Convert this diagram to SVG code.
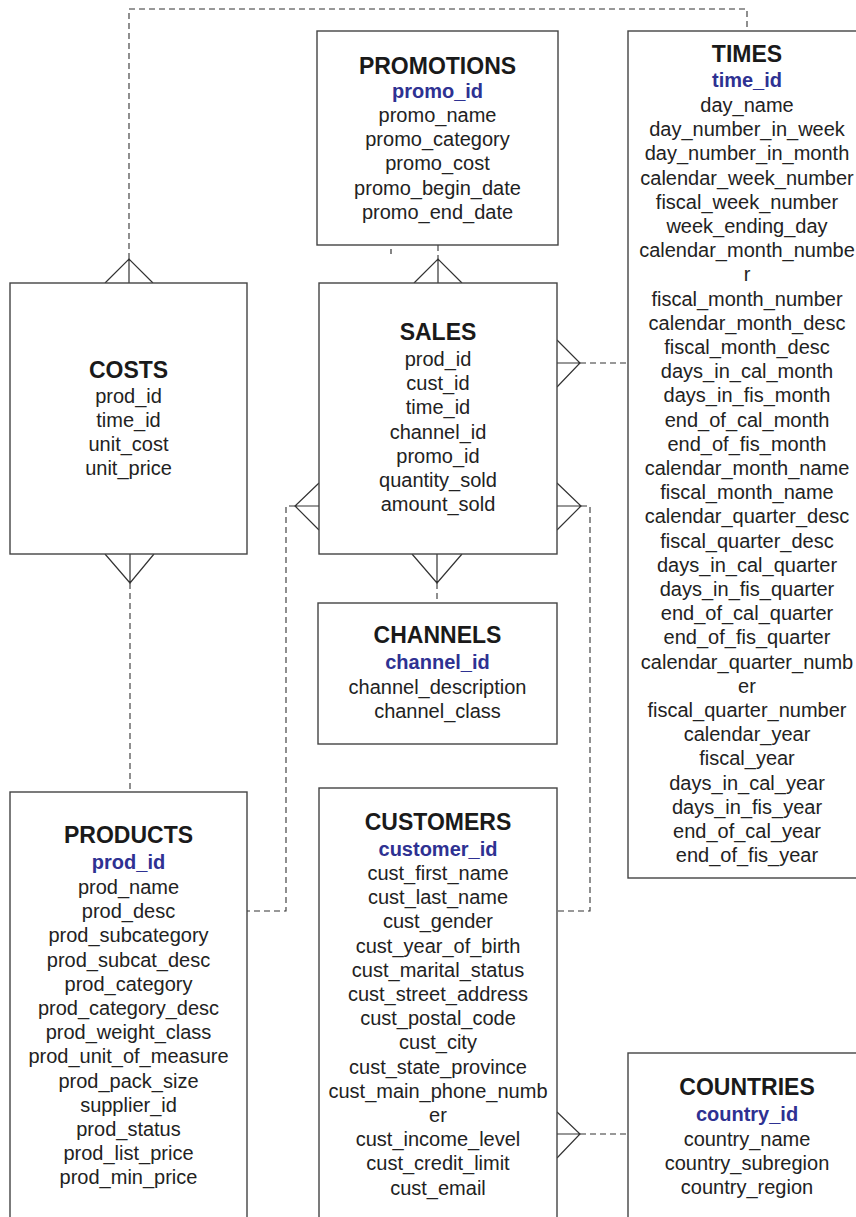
<svg xmlns="http://www.w3.org/2000/svg" width="856" height="1217" viewBox="0 0 856 1217">
<style>
.box{fill:#fff;stroke:#444;stroke-width:1.4}
.t{font-family:"Liberation Sans",Arial,sans-serif;font-size:20px;fill:#222;text-anchor:middle}
.h{font-weight:bold;font-size:23px;fill:#1a1a1a}
.pk{font-weight:bold;fill:#2e3192}
.dash{fill:none;stroke:#333;stroke-width:1.1;stroke-dasharray:6,4}
.cf{fill:none;stroke:#333;stroke-width:1.2}
</style>
<rect width="856" height="1217" fill="#fff"/>
<g id="connectors">
<path class="dash" d="M129,259 V9 H747 V31"/>
<path class="cf" d="M105,283 L129,259 L153,283 M129,259 V283"/>
<path class="dash" d="M438,245 V259"/>
<path class="cf" d="M414,283 L438,259 L462,283 M438,259 V283"/>
<path class="cf" d="M391,249 V254"/>
<path class="cf" d="M557,340 L580,363 L557,387 M557,363 H580"/>
<path class="dash" d="M580,363 H628"/>
<path class="cf" d="M319,483 L295,506 L319,530 M295,506 H319"/>
<path class="dash" d="M295,506 H286 V911 H247"/>
<path class="cf" d="M557,483 L581,506 L557,530 M557,506 H581"/>
<path class="dash" d="M581,506 H590 V911 H557"/>
<path class="cf" d="M412,554 L437,583 L462,554 M437,554 V583"/>
<path class="dash" d="M437,583 V603"/>
<path class="cf" d="M105,554 L130,583 L154,554 M130,554 V583"/>
<path class="dash" d="M130,583 V792"/>
<path class="cf" d="M557,1112 L580,1134 L557,1158 M557,1134 H580"/>
<path class="dash" d="M580,1134 H628"/>
</g>
<g id="promotions">
<rect class="box" x="317" y="31" width="241" height="214"/>
<text class="t h" x="437.5" y="74">PROMOTIONS</text>
<text class="t pk" x="437.5" y="98">promo_id</text>
<text class="t" x="437.5" y="122">promo_name</text>
<text class="t" x="437.5" y="146">promo_category</text>
<text class="t" x="437.5" y="170">promo_cost</text>
<text class="t" x="437.5" y="195">promo_begin_date</text>
<text class="t" x="437.5" y="219">promo_end_date</text>
</g>
<g id="times">
<rect class="box" x="628" y="31" width="240" height="847"/>
<text class="t h" x="747" y="62">TIMES</text>
<text class="t pk" x="747" y="87">time_id</text>
<text class="t" x="747" y="112">day_name</text>
<text class="t" x="747" y="136.2">day_number_in_week</text>
<text class="t" x="747" y="160.4">day_number_in_month</text>
<text class="t" x="747" y="184.6">calendar_week_number</text>
<text class="t" x="747" y="208.8">fiscal_week_number</text>
<text class="t" x="747" y="233">week_ending_day</text>
<text class="t" x="747" y="257.2">calendar_month_numbe</text>
<text class="t" x="747" y="281.4">r</text>
<text class="t" x="747" y="305.6">fiscal_month_number</text>
<text class="t" x="747" y="329.8">calendar_month_desc</text>
<text class="t" x="747" y="354">fiscal_month_desc</text>
<text class="t" x="747" y="378.2">days_in_cal_month</text>
<text class="t" x="747" y="402.4">days_in_fis_month</text>
<text class="t" x="747" y="426.6">end_of_cal_month</text>
<text class="t" x="747" y="450.8">end_of_fis_month</text>
<text class="t" x="747" y="475">calendar_month_name</text>
<text class="t" x="747" y="499.2">fiscal_month_name</text>
<text class="t" x="747" y="523.4">calendar_quarter_desc</text>
<text class="t" x="747" y="547.6">fiscal_quarter_desc</text>
<text class="t" x="747" y="571.8">days_in_cal_quarter</text>
<text class="t" x="747" y="596">days_in_fis_quarter</text>
<text class="t" x="747" y="620.2">end_of_cal_quarter</text>
<text class="t" x="747" y="644.4">end_of_fis_quarter</text>
<text class="t" x="747" y="668.6">calendar_quarter_numb</text>
<text class="t" x="747" y="692.8">er</text>
<text class="t" x="747" y="717">fiscal_quarter_number</text>
<text class="t" x="747" y="741.2">calendar_year</text>
<text class="t" x="747" y="765.4">fiscal_year</text>
<text class="t" x="747" y="789.6">days_in_cal_year</text>
<text class="t" x="747" y="813.8">days_in_fis_year</text>
<text class="t" x="747" y="838">end_of_cal_year</text>
<text class="t" x="747" y="862.2">end_of_fis_year</text>
</g>
<g id="costs">
<rect class="box" x="10" y="283" width="237" height="271"/>
<text class="t h" x="128.5" y="378">COSTS</text>
<text class="t" x="128.5" y="403">prod_id</text>
<text class="t" x="128.5" y="427">time_id</text>
<text class="t" x="128.5" y="451">unit_cost</text>
<text class="t" x="128.5" y="475">unit_price</text>
</g>
<g id="sales">
<rect class="box" x="319" y="283" width="238" height="271"/>
<text class="t h" x="438" y="340">SALES</text>
<text class="t" x="438" y="366">prod_id</text>
<text class="t" x="438" y="390">cust_id</text>
<text class="t" x="438" y="414">time_id</text>
<text class="t" x="438" y="439">channel_id</text>
<text class="t" x="438" y="463">promo_id</text>
<text class="t" x="438" y="487">quantity_sold</text>
<text class="t" x="438" y="511">amount_sold</text>
</g>
<g id="channels">
<rect class="box" x="318" y="603" width="239" height="141"/>
<text class="t h" x="437.5" y="643">CHANNELS</text>
<text class="t pk" x="437.5" y="669">channel_id</text>
<text class="t" x="437.5" y="694">channel_description</text>
<text class="t" x="437.5" y="718">channel_class</text>
</g>
<g id="products">
<rect class="box" x="10" y="792" width="237" height="440"/>
<text class="t h" x="128.5" y="843">PRODUCTS</text>
<text class="t pk" x="128.5" y="869">prod_id</text>
<text class="t" x="128.5" y="894">prod_name</text>
<text class="t" x="128.5" y="918.2">prod_desc</text>
<text class="t" x="128.5" y="942.4">prod_subcategory</text>
<text class="t" x="128.5" y="966.6">prod_subcat_desc</text>
<text class="t" x="128.5" y="990.8">prod_category</text>
<text class="t" x="128.5" y="1015">prod_category_desc</text>
<text class="t" x="128.5" y="1039.2">prod_weight_class</text>
<text class="t" x="128.5" y="1063.4">prod_unit_of_measure</text>
<text class="t" x="128.5" y="1087.6">prod_pack_size</text>
<text class="t" x="128.5" y="1111.8">supplier_id</text>
<text class="t" x="128.5" y="1136">prod_status</text>
<text class="t" x="128.5" y="1160.2">prod_list_price</text>
<text class="t" x="128.5" y="1184.4">prod_min_price</text>
</g>
<g id="customers">
<rect class="box" x="319" y="788" width="238" height="444"/>
<text class="t h" x="438" y="830">CUSTOMERS</text>
<text class="t pk" x="438" y="856">customer_id</text>
<text class="t" x="438" y="880">cust_first_name</text>
<text class="t" x="438" y="904.2">cust_last_name</text>
<text class="t" x="438" y="928.4">cust_gender</text>
<text class="t" x="438" y="952.6">cust_year_of_birth</text>
<text class="t" x="438" y="976.8">cust_marital_status</text>
<text class="t" x="438" y="1001">cust_street_address</text>
<text class="t" x="438" y="1025.2">cust_postal_code</text>
<text class="t" x="438" y="1049.4">cust_city</text>
<text class="t" x="438" y="1073.6">cust_state_province</text>
<text class="t" x="438" y="1097.8">cust_main_phone_numb</text>
<text class="t" x="438" y="1122">er</text>
<text class="t" x="438" y="1146.2">cust_income_level</text>
<text class="t" x="438" y="1170.4">cust_credit_limit</text>
<text class="t" x="438" y="1194.6">cust_email</text>
</g>
<g id="countries">
<rect class="box" x="628" y="1053" width="240" height="180"/>
<text class="t h" x="747" y="1095">COUNTRIES</text>
<text class="t pk" x="747" y="1121">country_id</text>
<text class="t" x="747" y="1146">country_name</text>
<text class="t" x="747" y="1170">country_subregion</text>
<text class="t" x="747" y="1194">country_region</text>
</g>
</svg>
